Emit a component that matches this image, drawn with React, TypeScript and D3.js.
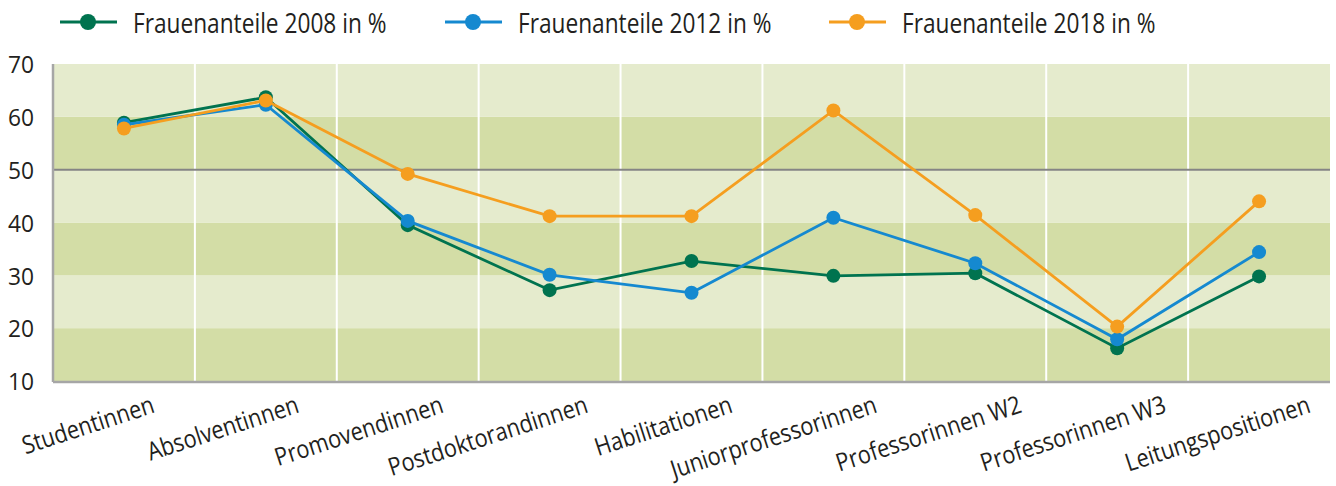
import React from "react";
import * as d3 from "d3";

const categories = [
  "Studentinnen",
  "Absolventinnen",
  "Promovendinnen",
  "Postdoktorandinnen",
  "Habilitationen",
  "Juniorprofessorinnen",
  "Professorinnen W2",
  "Professorinnen W3",
  "Leitungspositionen",
];

const values2008 = [58.9, 63.7, 39.5, 27.2, 32.7, 29.9, 30.4, 16.2, 29.8];
const values2012 = [58.5, 62.3, 40.3, 30.1, 26.7, 40.9, 32.3, 17.9, 34.4];
const values2018 = [57.8, 63.1, 49.2, 41.2, 41.2, 61.2, 41.4, 20.3, 44.0];

const seriesNames = [
  "Frauenanteile 2008 in %",
  "Frauenanteile 2012 in %",
  "Frauenanteile 2018 in %",
];
const seriesColors = ["#00734f", "#1589d0", "#f59e1f"];
const yTicks = [10, 20, 30, 40, 50, 60, 70];

const W = 1336;
const H = 486;
const FONT = "'Open Sans', 'Noto Sans', sans-serif";
const TEXT = "#231f20";

export default function App() {
  const left = 53;
  const right = 1330;
  const top = 64;
  const bottom = 381;

  const x = d3.scaleBand<string>().domain(categories).range([left, right]);
  const y = d3.scaleLinear().domain([10, 70]).range([bottom, top]);
  // label end positions (rotated labels are spread slightly wider than the bands)
  const xl = d3.scalePoint<string>().domain(categories).range([156, 1312]);

  const series = [values2008, values2012, values2018];
  const line = d3
    .line<number>()
    .x((_, i) => (x(categories[i]) as number) + x.bandwidth() / 2)
    .y((d) => y(d));

  const bands = d3.range(10, 70, 10);
  const legendX = [60, 445, 829];

  return (
    <svg
      width={W}
      height={H}
      style={{ position: "absolute", left: 0, top: 0, background: "#fff" }}
      fontFamily={FONT}
    >
      {bands.map((b) => (
        <rect
          key={b}
          x={left}
          y={y(b + 10)}
          width={right - left}
          height={y(b) - y(b + 10)}
          fill={(b / 10) % 2 === 1 ? "#d3dda6" : "#e5ebcd"}
        />
      ))}
      {categories.slice(1).map((c) => (
        <line
          key={c}
          x1={x(c) as number}
          x2={x(c) as number}
          y1={top}
          y2={bottom}
          stroke="#ffffff"
          strokeWidth={2}
        />
      ))}
      <line x1={left} x2={right} y1={y(50)} y2={y(50)} stroke="#858585" strokeWidth={2} />
      <line x1={left} x2={left} y1={top} y2={bottom + 1} stroke="#a6a6a6" strokeWidth={2.5} />
      <line x1={left} x2={right} y1={bottom + 1} y2={bottom + 1} stroke="#a6a6a6" strokeWidth={2.5} />

      {yTicks.map((t) => (
        <text
          key={t}
          transform={`translate(34,${y(t)}) scale(0.95,1)`}
          textAnchor="end"
          dominantBaseline="central"
          fontSize={24}
          fill={TEXT}
        >
          {t}
        </text>
      ))}

      {categories.map((c) => {
        const cx = xl(c) as number;
        const cy = bottom + 31;
        return (
          <text
            key={c}
            transform={`translate(${cx},${cy}) rotate(-18) scale(0.87,1)`}
            textAnchor="end"
            fontSize={25}
            fill={TEXT}
          >
            {c}
          </text>
        );
      })}

      {series.map((vals, si) => (
        <g key={si}>
          <path d={line(vals) as string} fill="none" stroke={seriesColors[si]} strokeWidth={2.8} />
          {vals.map((v, i) => (
            <circle
              key={i}
              cx={(x(categories[i]) as number) + x.bandwidth() / 2}
              cy={y(v)}
              r={7}
              fill={seriesColors[si]}
            />
          ))}
        </g>
      ))}

      {seriesNames.map((n, i) => (
        <g key={n} transform={`translate(${legendX[i]},22)`}>
          <line x1={0} x2={57} y1={0} y2={0} stroke={seriesColors[i]} strokeWidth={3} />
          <circle cx={28} cy={0} r={8} fill={seriesColors[i]} />
          <text
            transform={`translate(73,0) scale(0.81,1)`}
            dominantBaseline="central"
            fontSize={28}
            fill={TEXT}
          >
            {n}
          </text>
        </g>
      ))}
    </svg>
  );
}
